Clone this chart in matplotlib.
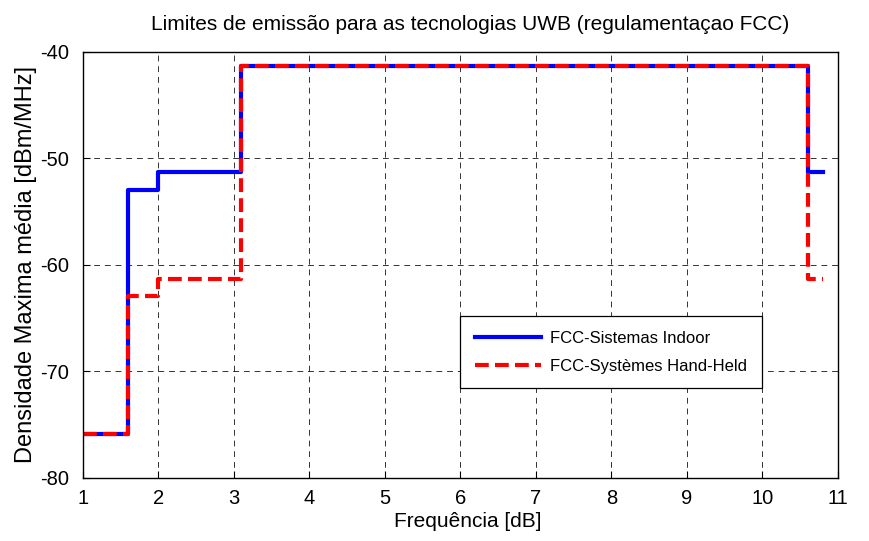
import numpy as np
import matplotlib.pyplot as plt

plt.rcParams['font.family'] = ['Liberation Sans', 'DejaVu Sans']
plt.rcParams['axes.unicode_minus'] = False

# frequency breakpoints (GHz) and limits (dBm/MHz)
freq = [1.0, 1.6, 1.99, 3.1, 10.6, 10.8]
indoor = [-75.9, -53.0, -51.3, -41.3, -51.3, -51.3]
handheld = [-75.9, -62.9, -61.3, -41.3, -61.3, -61.3]

fig = plt.figure(figsize=(8.69, 5.41), dpi=100)
ax = fig.add_axes([0.0955, 0.1165, 0.8685, 0.7875])

ax.step(freq, indoor, where='post', color='#0000ff', lw=3,
        label='FCC-Sistemas Indoor')
ax.step(freq, handheld, where='post', color='#ff0000', lw=3,
        ls=(0, (3.3, 1.5)), label='FCC-Systèmes Hand-Held')

ax.set_xlim(1, 11)
ax.set_ylim(-80, -40)
ax.set_xticks(np.arange(1, 12, 1))
ax.set_yticks([-80, -70, -60, -50, -40])
ax.grid(True, color='k', ls=(0, (6, 5)), lw=0.7, alpha=0.8)
ax.tick_params(direction='in', length=5, labelsize=14.5)
ax.tick_params(axis='x', pad=8)
ax.tick_params(axis='y', pad=10)
for s in ax.spines.values():
    s.set_linewidth(1.0)

ax.set_title('Limites de emissão para as tecnologias UWB (regulamentaçao FCC)',
             fontsize=15, pad=16, x=0.513)
ax.set_xlabel('Frequência [dB]', fontsize=15, labelpad=3, x=0.51)
ax.set_ylabel('Densidade Maxima média [dBm/MHz]', fontsize=17, labelpad=2)

leg = ax.legend(loc='lower left', bbox_to_anchor=(0.5, 0.211, 0.4, 0.17),
                mode='expand', borderaxespad=0, fontsize=12, fancybox=False,
                framealpha=1, edgecolor='k', handlelength=4.0,
                handletextpad=0.5, borderpad=0.85, labelspacing=0.8)
leg.get_frame().set_linewidth(0.9)

fig.savefig('out.png', dpi=100)
